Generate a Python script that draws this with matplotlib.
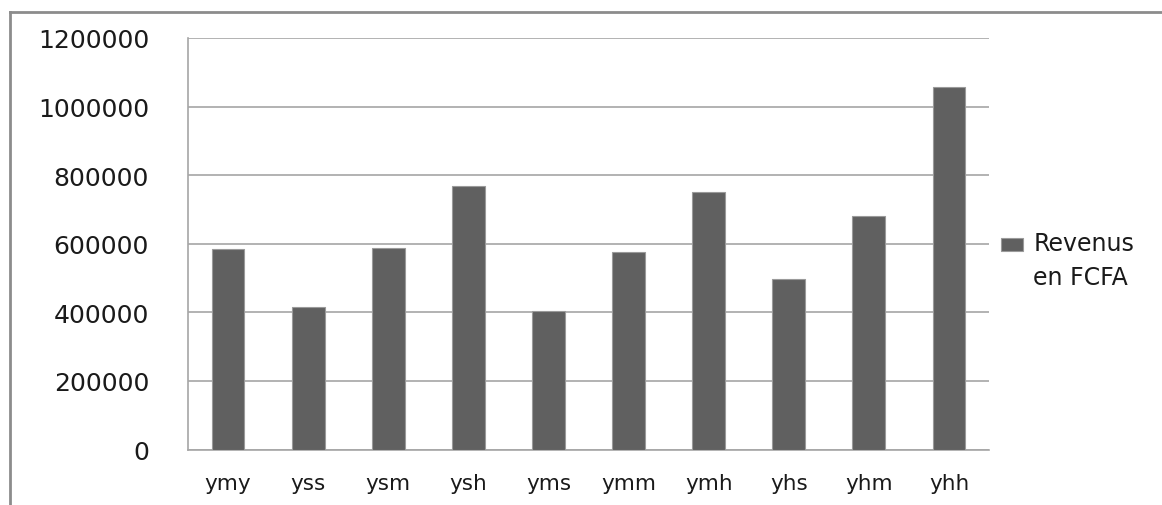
import matplotlib
matplotlib.use("Agg")
import matplotlib.pyplot as plt
from matplotlib.lines import Line2D
from matplotlib.patches import Rectangle
from matplotlib.legend_handler import HandlerPatch

categories = ["ymy", "yss", "ysm", "ysh", "yms", "ymm", "ymh", "yhs", "yhm", "yhh"]
revenus = [585000, 415000, 587000, 768000, 405000, 575000, 750000, 498000, 682000, 1056000]
series_name = "Revenus\nen FCFA"
yticks = [0, 200000, 400000, 600000, 800000, 1000000, 1200000]

plt.rcParams['font.family'] = ['DejaVu Sans']
W, H = 1162, 506
fig = plt.figure(figsize=(W / 100, H / 100), dpi=100)
ax = fig.add_axes([188 / W, (H - 450.5) / H, (989 - 188) / W, (450.5 - 39) / H])

grid_c = "#a6a6a6"
bar_c = "#606060"
txt_c = "#1a1a1a"

x = list(range(len(categories)))
bars = ax.bar(x, revenus, width=0.41, color=bar_c, edgecolor="#9a9a9a",
              linewidth=0.8, zorder=3, label=series_name)
ax.set_xlim(-0.5, len(categories) - 0.5)
ax.set_ylim(0, 1200000)
ax.set_yticks(yticks)
ax.set_yticklabels([str(v) for v in yticks])
ax.set_xticks(x)
ax.set_xticklabels(categories)
ax.yaxis.grid(True, color=grid_c, linewidth=1.2, zorder=0)
ax.set_axisbelow(True)
for s in ["top", "right"]:
    ax.spines[s].set_visible(False)
for s in ["left", "bottom"]:
    ax.spines[s].set_color(grid_c)
    ax.spines[s].set_linewidth(1.2)
ax.tick_params(axis="y", length=0, pad=28, labelsize=18, labelcolor=txt_c)
ax.tick_params(axis="x", length=0, pad=17, labelsize=15.5, labelcolor=txt_c)


def low_square(legend, orig_handle, xdescent, ydescent, width, height, fontsize):
    return Rectangle((-xdescent, -ydescent), width, height * 0.66)


def from_first_bar(legend_handle, orig_handle):
    legend_handle.update_from(orig_handle.patches[0])


leg = ax.legend(loc="upper left", bbox_to_anchor=(1001 / W, (H - 232) / H),
                bbox_transform=fig.transFigure, frameon=False, fontsize=17,
                handlelength=0.95, handleheight=0.92, handletextpad=0.42,
                labelcolor=txt_c, borderpad=0, borderaxespad=0,
                handler_map={bars: HandlerPatch(patch_func=low_square,
                                                update_func=from_first_bar)})
for t in leg.get_texts():
    t.set_linespacing(1.55)
try:
    for hp in leg._legend_handle_box.get_children()[0].get_children():
        hp.align = "top"
except Exception:
    pass

# outer chart frame
frame_c = "#8c8c8c"
fig.add_artist(Line2D([10 / W, 1.0], [(H - 13) / H, (H - 13) / H], color=frame_c,
                      linewidth=2, transform=fig.transFigure))
fig.add_artist(Line2D([10 / W, 10 / W], [0, (H - 13) / H], color=frame_c,
                      linewidth=2, transform=fig.transFigure))

fig.savefig("out.png", dpi=100)
